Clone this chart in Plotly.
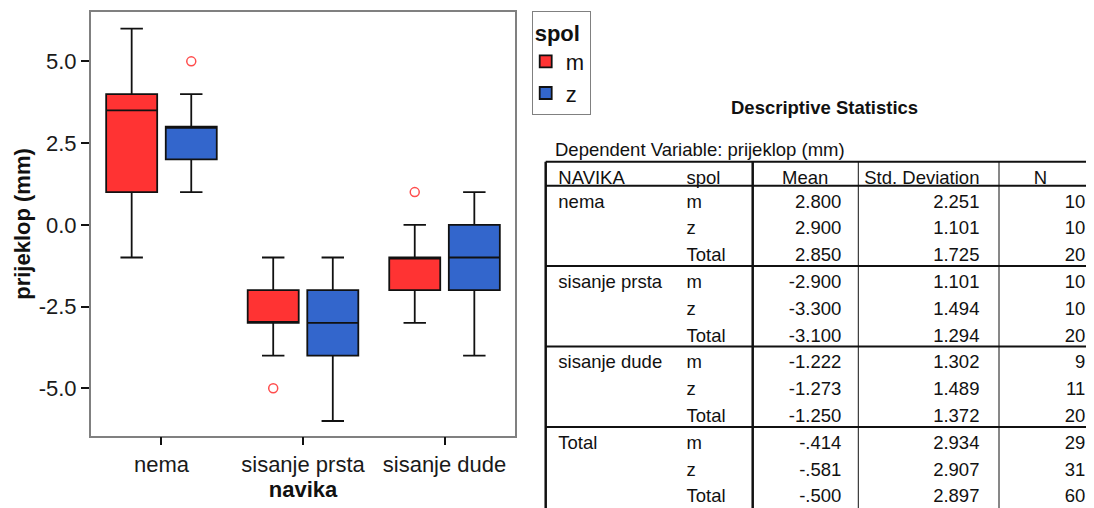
import plotly.graph_objects as go

# the page body keeps its default 8px margin, so the figure is laid out
# in reference pixels shifted by OFF
W, H = 1094, 508
OFF = 8
FIG_W, FIG_H = W - OFF, H - OFF
FONT = "Liberation Sans, Arial, sans-serif"
RED = "#FF3333"
BLUE = "#3366CC"

# categories on the x axis
navika = ["nema", "sisanje prsta", "sisanje dude"]

# box statistics for spol = m (prijeklop, mm)
m_upper = [6, -1, 0]
m_q3 = [4, -2, -1]
m_median = [3.5, -3, -1]
m_q1 = [1, -3, -2]
m_lower = [-1, -4, -3]

# box statistics for spol = z
z_upper = [4, -1, 1]
z_q3 = [3, -2, 0]
z_median = [3, -3, -1]
z_q1 = [2, -4, -2]
z_lower = [1, -6, -4]

# outliers
m_out_x = ["sisanje prsta", "sisanje dude"]
m_out_y = [-5, 1]
z_out_x = ["nema"]
z_out_y = [5]

y_tick_vals = [-5, -2.5, 0, 2.5, 5]
y_tick_text = ["-5.0", "-2.5", "0.0", "2.5", "5.0"]

# Descriptive Statistics table
tbl_navika = ["nema", "sisanje prsta", "sisanje dude", "Total"]
tbl_spol = ["m", "z", "Total"]
tbl_mean = ["2.800", "2.900", "2.850", "-2.900", "-3.300", "-3.100",
            "-1.222", "-1.273", "-1.250", "-.414", "-.581", "-.500"]
tbl_sd = ["2.251", "1.101", "1.725", "1.101", "1.494", "1.294",
          "1.302", "1.489", "1.372", "2.934", "2.907", "2.897"]
tbl_n = [10, 10, 20, 10, 10, 20, 9, 11, 20, 29, 31, 60]
tbl_header = ["NAVIKA", "spol", "Mean", "Std. Deviation", "N"]


def px_x(v):
    return (v - OFF) / FIG_W


def px_y(v):
    return 1 - (v - OFF) / FIG_H


fig = go.Figure()

box_line = dict(color="#111111", width=1.8)
fig.add_trace(go.Box(
    name="m", x=navika, q1=m_q1, median=m_median, q3=m_q3,
    lowerfence=m_lower, upperfence=m_upper,
    fillcolor=RED, line=box_line, whiskerwidth=0.44, offsetgroup="m",
    hoverinfo="skip"
))
fig.add_trace(go.Box(
    name="z", x=navika, q1=z_q1, median=z_median, q3=z_q3,
    lowerfence=z_lower, upperfence=z_upper,
    fillcolor=BLUE, line=box_line, whiskerwidth=0.44, offsetgroup="z",
    hoverinfo="skip"
))

out_marker = dict(symbol="circle-open", size=9, color="#FF4D4D", line=dict(width=1.5))
fig.add_trace(go.Scatter(x=m_out_x, y=m_out_y, mode="markers", marker=out_marker,
                         offsetgroup="m", showlegend=False, hoverinfo="skip"))
fig.add_trace(go.Scatter(x=z_out_x, y=z_out_y, mode="markers", marker=out_marker,
                         offsetgroup="z", showlegend=False, hoverinfo="skip"))

# table geometry (reference px)
TABLE_TOP = 161.7
HEADER_H = 24
ROW_H = 26.8
col_edges = [550.3, 678.7, 761.3, 849.7, 988, W]
widths = [col_edges[i + 1] - col_edges[i] for i in range(5)]

col_navika = []
for name in tbl_navika:
    col_navika += [name, "", ""]
col_spol = tbl_spol * 4

tbl_font = dict(family=FONT, size=18.5, color="#111111")
fig.add_trace(go.Table(
    domain=dict(x=[px_x(col_edges[0]), 1], y=[0, px_y(TABLE_TOP)]),
    columnwidth=widths,
    header=dict(values=tbl_header, height=HEADER_H,
                align=["left", "left", "center", "right", "center"],
                font=tbl_font, fill_color="white",
                line=dict(color="rgba(0,0,0,0)", width=0)),
    cells=dict(values=[col_navika, col_spol, tbl_mean, tbl_sd, tbl_n], height=ROW_H,
               align=["left", "left", "right", "right", "right"],
               font=tbl_font, fill_color="white",
               line=dict(color="rgba(0,0,0,0)", width=0)),
))

# table rules
shapes = []
TL = 545.7
head_bot = TABLE_TOP + HEADER_H
for yy in [TABLE_TOP, head_bot] + [head_bot + 3 * ROW_H * k for k in (1, 2, 3)]:
    shapes.append(dict(type="line", xref="paper", yref="paper", x0=px_x(TL), x1=1,
                       y0=px_y(yy), y1=px_y(yy), line=dict(color="#111111", width=2)))
for xx, lw in [(TL, 2.5), (752.7, 2.5), (858.3, 1), (999, 1)]:
    shapes.append(dict(type="line", xref="paper", yref="paper", x0=px_x(xx), x1=px_x(xx),
                       y0=0, y1=px_y(TABLE_TOP), line=dict(color="#111111", width=lw)))

annotations = [
    dict(text="<b>Descriptive Statistics</b>", xref="paper", yref="paper",
         x=px_x(824), y=px_y(108), xanchor="center", yanchor="middle", showarrow=False,
         font=dict(family=FONT, size=18.5, color="#111111")),
    dict(text="Dependent Variable: prijeklop (mm)", xref="paper", yref="paper",
         x=px_x(553), y=px_y(149), xanchor="left", yanchor="middle", showarrow=False,
         font=dict(family=FONT, size=18.5, color="#111111")),
]

axis_common = dict(
    showline=True, mirror=True, linecolor="#808080", linewidth=1.5,
    ticks="outside", ticklen=8, tickwidth=2, tickcolor="#111111",
    showgrid=False, zeroline=False,
    tickfont=dict(family=FONT, size=22, color="#1a1a1a"),
)

fig.update_layout(
    width=FIG_W, height=FIG_H,
    margin=dict(l=0, r=0, t=0, b=0, autoexpand=False),
    paper_bgcolor="white", plot_bgcolor="white",
    boxmode="group", boxgap=0.158, boxgroupgap=0.144,
    scattermode="group", scattergap=0.158,
    xaxis=dict(domain=[px_x(90.7), px_x(515.3)],
               title=dict(text="<b>navika</b>", standoff=6,
                          font=dict(family=FONT, size=22, color="#111111")),
               **axis_common),
    yaxis=dict(domain=[px_y(435.7), px_y(12.3)], range=[-6.45, 6.5],
               tickvals=y_tick_vals, ticktext=y_tick_text,
               title=dict(text="<b>prijeklop (mm)</b>", standoff=2,
                          font=dict(family=FONT, size=22, color="#111111")),
               **axis_common),
    legend=dict(x=px_x(531.7), y=px_y(11), xanchor="left", yanchor="top",
                bordercolor="#808080", borderwidth=1, bgcolor="white",
                title=dict(text="<b>spol</b>", font=dict(family=FONT, size=22, color="#111111")),
                font=dict(family=FONT, size=22, color="#111111"),
                tracegroupgap=0, indentation=-7),
    shapes=shapes,
    annotations=annotations,
)

fig.write_html("out.html")
